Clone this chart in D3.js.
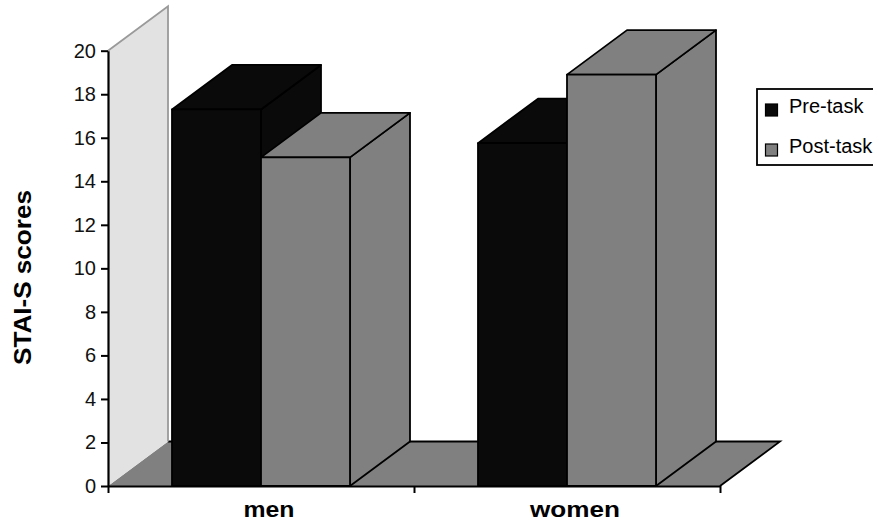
<!DOCTYPE html>
<html>
<head>
<meta charset="utf-8">
<script src="https://cdn.jsdelivr.net/npm/d3@7"></script>
<style>
  html, body { margin: 0; padding: 0; background: #fff; }
  svg { display: block; font-family: Arial, "Liberation Sans", sans-serif; }
</style>
</head>
<body>
<svg id="chart" width="873" height="522"></svg>
<script>
// Data
const categories = ["men", "women"];
const series = ["Pre-task", "Post-task"];
const preTask = [17.3, 15.75];
const postTask = [15.1, 18.9];
const yTicks = [0, 2, 4, 6, 8, 10, 12, 14, 16, 18, 20];
const seriesColors = ["#0a0a0a", "#808080"];

const svg = d3.select("#chart");

// Plot frame (front plane) and oblique depth offset
const plotLeft = 108, plotRight = 720, plotBottom = 486, plotTop = 50.7;
const DX = 60, DY = 44.5;

const y = d3.scaleLinear().domain([0, 20]).range([plotBottom, plotTop]);
const x0 = d3.scaleBand().domain(categories).range([plotLeft, plotRight]);
const groupPad = 64;
const x1 = d3.scaleBand().domain(series).range([groupPad, x0.bandwidth() - groupPad]);
const color = d3.scaleOrdinal().domain(series).range(seriesColors);

const pts = a => a.map(p => p.join(",")).join(" ");

// Floor
const y0 = y(0);
svg.append("polygon")
  .attr("points", pts([[plotLeft, y0], [plotLeft + DX, y0 - DY], [plotRight + DX, y0 - DY], [plotRight, y0]]))
  .attr("fill", "#808080");
svg.append("polyline")
  .attr("points", pts([[plotLeft + DX, y0 - DY], [plotRight + DX, y0 - DY], [plotRight, y0]]))
  .attr("fill", "none").attr("stroke", "#000").attr("stroke-width", 1.8);

// Side wall
const yMax = y(20);
svg.append("polygon")
  .attr("points", pts([[plotLeft, y0], [plotLeft, yMax], [plotLeft + DX, yMax - DY], [plotLeft + DX, y0 - DY]]))
  .attr("fill", "#e2e2e2");
svg.append("polyline")
  .attr("points", pts([[plotLeft, yMax], [plotLeft + DX, yMax - DY], [plotLeft + DX, y0 - DY]]))
  .attr("fill", "none").attr("stroke", "#9a9a9a").attr("stroke-width", 1.8);

// Bars, drawn left to right so nearer faces overlap correctly
const bars = [];
categories.forEach((c, i) => {
  bars.push({ cat: c, ser: series[0], value: preTask[i] });
  bars.push({ cat: c, ser: series[1], value: postTask[i] });
});

const barG = svg.append("g");
bars.forEach(d => {
  const x = x0(d.cat) + x1(d.ser);
  const w = x1.bandwidth();
  const yv = y(d.value);
  const g = barG.append("g")
    .attr("fill", color(d.ser))
    .attr("stroke", "#000")
    .attr("stroke-width", 1.8)
    .attr("stroke-linejoin", "round");
  g.append("polygon")
    .attr("points", pts([[x + w, yv], [x + w + DX, yv - DY], [x + w + DX, y0 - DY], [x + w, y0]]));
  g.append("polygon")
    .attr("points", pts([[x, yv], [x + DX, yv - DY], [x + w + DX, yv - DY], [x + w, yv]]));
  g.append("rect")
    .attr("x", x).attr("y", yv).attr("width", w).attr("height", y0 - yv);
});

// Y axis
const yAxis = svg.append("g")
  .attr("transform", `translate(${plotLeft},0)`)
  .call(d3.axisLeft(y).tickValues(yTicks).tickSize(7).tickSizeOuter(0).tickPadding(5));
yAxis.select(".domain").attr("stroke", "#000").attr("stroke-width", 2.2);
yAxis.selectAll(".tick line").attr("stroke", "#000").attr("stroke-width", 2);
yAxis.selectAll(".tick text")
  .attr("font-size", 20).attr("fill", "#111")
  .attr("font-family", "Arial, 'Liberation Sans', sans-serif");

// X axis with ticks on the category boundaries
const xEdges = [plotLeft].concat(categories.map(c => x0(c) + x0.bandwidth()));
const xLin = d3.scaleLinear().domain([plotLeft, plotRight]).range([plotLeft, plotRight]);
const xAxis = svg.append("g")
  .attr("transform", `translate(0,${plotBottom})`)
  .call(d3.axisBottom(xLin).tickValues(xEdges).tickFormat("").tickSize(7).tickSizeOuter(0));
xAxis.select(".domain").attr("stroke", "#000").attr("stroke-width", 2.2);
xAxis.selectAll(".tick line").attr("stroke", "#000").attr("stroke-width", 2);

// Category labels
const catWidths = { men: 51, women: 90 };
svg.append("g").selectAll("text")
  .data(categories)
  .join("text")
  .attr("x", c => x0(c) + x0.bandwidth() / 2 + 8)
  .attr("y", 517)
  .attr("text-anchor", "middle")
  .attr("font-size", 22)
  .attr("font-weight", "bold")
  .attr("textLength", c => catWidths[c])
  .attr("lengthAdjust", "spacingAndGlyphs")
  .text(c => c);

// Y axis title
svg.append("text")
  .attr("transform", "translate(31,277.5) rotate(-90)")
  .attr("text-anchor", "middle")
  .attr("font-size", 24)
  .attr("font-weight", "bold")
  .attr("textLength", 175)
  .attr("lengthAdjust", "spacingAndGlyphs")
  .text("STAI-S scores");

// Legend
const legend = svg.append("g").attr("transform", "translate(757,89)");
legend.append("rect")
  .attr("width", 150).attr("height", 76)
  .attr("fill", "#fff").attr("stroke", "#000").attr("stroke-width", 1.8);
series.forEach((s, i) => {
  const row = legend.append("g").attr("transform", `translate(0,${i * 40})`);
  row.append("rect")
    .attr("x", 8.5).attr("y", 15).attr("width", 12).attr("height", 12)
    .attr("fill", color(s)).attr("stroke", "#000").attr("stroke-width", 1.2);
  row.append("text")
    .attr("x", 32).attr("y", 24)
    .attr("font-size", 20)
    .text(s);
});
</script>
</body>
</html>
